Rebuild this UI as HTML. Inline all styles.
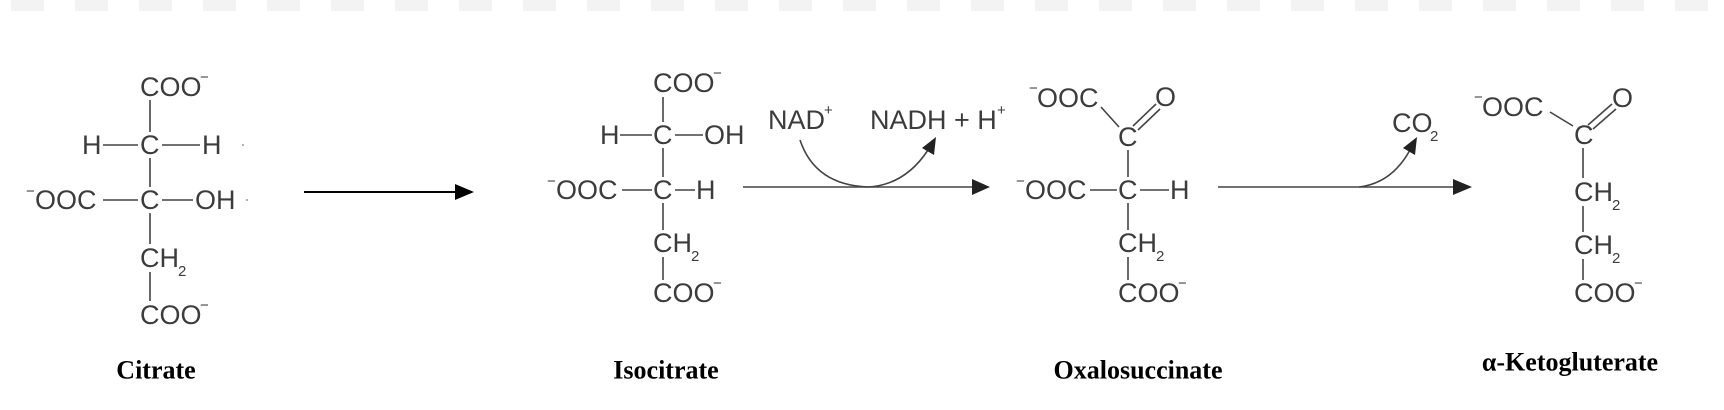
<!DOCTYPE html>
<html><head><meta charset="utf-8"><style>
html,body{margin:0;padding:0;background:#fff;}
svg{display:block;}
.t{font-family:"Liberation Sans",Arial,sans-serif;font-size:27px;fill:#3c3c3c;dominant-baseline:central;}
.s{font-family:"Liberation Sans",Arial,sans-serif;font-size:15px;fill:#3c3c3c;}
.l{font-family:"Liberation Serif",serif;font-weight:bold;font-size:26px;fill:#000;dominant-baseline:central;text-anchor:middle;}
line,path.b{stroke:#444;stroke-width:1.6;fill:none;}
</style></head><body>
<svg width="1724" height="410" viewBox="0 0 1724 410" xmlns="http://www.w3.org/2000/svg">
<g fill="#f3f3f3">
<rect x="11" y="0" width="33" height="11"/><rect x="75" y="0" width="33" height="11"/><rect x="139" y="0" width="33" height="11"/><rect x="203" y="0" width="33" height="11"/><rect x="267" y="0" width="33" height="11"/><rect x="331" y="0" width="33" height="11"/><rect x="395" y="0" width="33" height="11"/><rect x="459" y="0" width="33" height="11"/><rect x="523" y="0" width="33" height="11"/><rect x="587" y="0" width="33" height="11"/><rect x="651" y="0" width="33" height="11"/><rect x="715" y="0" width="33" height="11"/><rect x="779" y="0" width="33" height="11"/><rect x="843" y="0" width="33" height="11"/><rect x="907" y="0" width="33" height="11"/><rect x="971" y="0" width="33" height="11"/><rect x="1035" y="0" width="33" height="11"/><rect x="1099" y="0" width="33" height="11"/><rect x="1163" y="0" width="33" height="11"/><rect x="1227" y="0" width="33" height="11"/><rect x="1291" y="0" width="33" height="11"/><rect x="1355" y="0" width="33" height="11"/><rect x="1419" y="0" width="33" height="11"/><rect x="1483" y="0" width="33" height="11"/><rect x="1547" y="0" width="33" height="11"/><rect x="1611" y="0" width="33" height="11"/><rect x="1675" y="0" width="33" height="11"/>
</g>

<!-- Citrate -->
<text class="t" x="140" y="87">COO</text><text class="s" x="200" y="82">−</text>
<line x1="150" y1="100" x2="150" y2="132"/>
<text class="t" x="82" y="145">H</text><line x1="103" y1="145" x2="138" y2="145"/>
<text class="t" x="140" y="145">C</text><line x1="162" y1="145" x2="200" y2="145"/>
<text class="t" x="202" y="145">H</text>
<circle cx="243" cy="145" r="1" fill="#999"/>
<line x1="150" y1="158" x2="150" y2="187"/>
<text class="s" x="26" y="196">−</text><text class="t" x="35" y="200">OOC</text>
<line x1="103" y1="200" x2="138" y2="200"/>
<text class="t" x="140" y="200">C</text><line x1="162" y1="200" x2="193" y2="200"/>
<text class="t" x="195" y="200">OH</text>
<circle cx="247" cy="200" r="1" fill="#999"/>
<line x1="150" y1="213" x2="150" y2="244"/>
<text class="t" x="140" y="258">CH</text><text class="s" x="178" y="276">2</text>
<line x1="150" y1="272" x2="150" y2="301"/>
<text class="t" x="140" y="315">COO</text><text class="s" x="200" y="310">−</text>
<text class="l" x="156" y="370">Citrate</text>

<!-- Arrow 1 -->
<line x1="304" y1="192" x2="458" y2="192" style="stroke:#000;stroke-width:2"/>
<path d="M474 192 L455 184 L455 200 Z" fill="#000"/>

<!-- Isocitrate -->
<text class="t" x="653" y="83">COO</text><text class="s" x="713" y="78">−</text>
<line x1="663" y1="97" x2="663" y2="122"/>
<text class="t" x="600" y="135">H</text><line x1="620" y1="135" x2="652" y2="135"/>
<text class="t" x="653" y="135">C</text><line x1="675" y1="135" x2="703" y2="135"/>
<text class="t" x="704" y="135">OH</text>
<line x1="663" y1="148" x2="663" y2="177"/>
<text class="s" x="547" y="186">−</text><text class="t" x="556" y="190">OOC</text>
<line x1="622" y1="190" x2="652" y2="190"/>
<text class="t" x="653" y="190">C</text><line x1="675" y1="190" x2="695" y2="190"/>
<text class="t" x="696" y="190">H</text>
<line x1="663" y1="203" x2="663" y2="230"/>
<text class="t" x="653" y="243">CH</text><text class="s" x="691" y="261">2</text>
<line x1="663" y1="257" x2="663" y2="280"/>
<text class="t" x="653" y="293">COO</text><text class="s" x="713" y="288">−</text>
<text class="l" x="666" y="370">Isocitrate</text>

<!-- Arrow 2 -->
<text class="t" x="768" y="120">NAD</text><text class="s" x="824" y="115">+</text>
<text class="t" x="870" y="120">NADH + H</text><text class="s" x="997" y="115">+</text>
<line x1="743" y1="187" x2="975" y2="187"/>
<path d="M990 187 L972 179 L972 195 Z" fill="#222"/>
<path class="b" d="M800 140 Q815 185 868 187 Q905 185 928 150"/>
<path d="M936 137 L922 148 L934 155 Z" fill="#222"/>

<!-- Oxalosuccinate -->
<text class="s" x="1029" y="93">−</text><text class="t" x="1037" y="98">OOC</text>
<text class="t" x="1155" y="97">O</text>
<line x1="1101" y1="107" x2="1119" y2="127"/>
<line x1="1133" y1="126" x2="1156" y2="104"/>
<line x1="1138" y1="130" x2="1160" y2="109"/>
<text class="t" x="1118" y="137">C</text>
<line x1="1128" y1="150" x2="1128" y2="177"/>
<text class="s" x="1016" y="186">−</text><text class="t" x="1025" y="190">OOC</text>
<line x1="1090" y1="190" x2="1117" y2="190"/>
<text class="t" x="1118" y="190">C</text><line x1="1140" y1="190" x2="1169" y2="190"/>
<text class="t" x="1170" y="190">H</text>
<line x1="1128" y1="203" x2="1128" y2="230"/>
<text class="t" x="1118" y="243">CH</text><text class="s" x="1156" y="261">2</text>
<line x1="1128" y1="257" x2="1128" y2="280"/>
<text class="t" x="1118" y="293">COO</text><text class="s" x="1178" y="288">−</text>
<text class="l" x="1138" y="370">Oxalosuccinate</text>

<!-- Arrow 3 -->
<text class="t" x="1392" y="123">CO</text><text class="s" x="1430" y="141">2</text>
<line x1="1218" y1="187" x2="1455" y2="187"/>
<path d="M1472 187 L1453 179 L1453 195 Z" fill="#222"/>
<path class="b" d="M1359 187 Q1392 183 1410 150"/>
<path d="M1417 137 L1403 148 L1415 155 Z" fill="#222"/>

<!-- alpha-Ketoglutarate -->
<text class="s" x="1474" y="102">−</text><text class="t" x="1482" y="107">OOC</text>
<text class="t" x="1612" y="98">O</text>
<line x1="1550" y1="112" x2="1573" y2="126"/>
<line x1="1588" y1="125" x2="1612" y2="104"/>
<line x1="1593" y1="129" x2="1616" y2="109"/>
<text class="t" x="1574" y="135">C</text>
<line x1="1583" y1="148" x2="1583" y2="178"/>
<text class="t" x="1574" y="192">CH</text><text class="s" x="1612" y="210">2</text>
<line x1="1583" y1="206" x2="1583" y2="232"/>
<text class="t" x="1574" y="245">CH</text><text class="s" x="1612" y="263">2</text>
<line x1="1583" y1="259" x2="1583" y2="280"/>
<text class="t" x="1574" y="293">COO</text><text class="s" x="1634" y="288">−</text>
<text class="l" x="1570" y="362">α-Ketogluterate</text>
</svg>
</body></html>
